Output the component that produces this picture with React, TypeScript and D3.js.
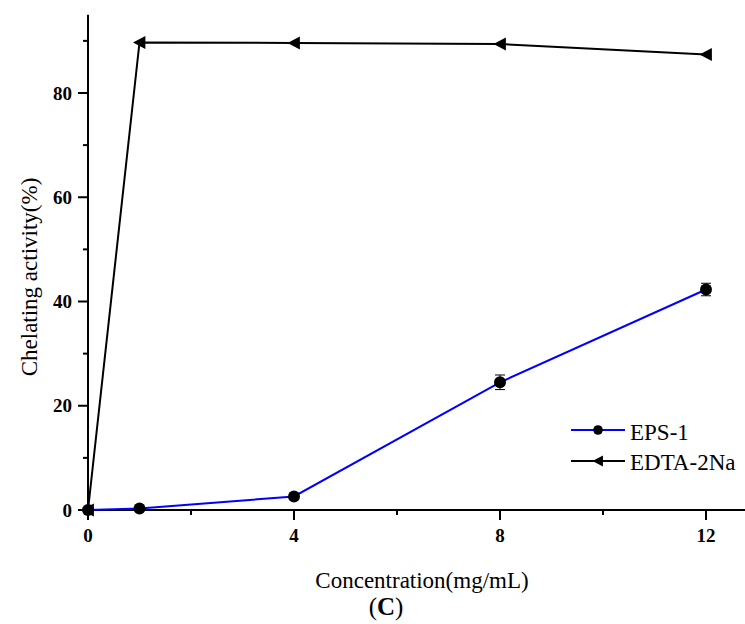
import React from "react";
import * as d3 from "d3";

const concentrations = [0, 1, 4, 8, 12];
const eps1 = [0, 0.3, 2.6, 24.5, 42.3];
const eps1Err = [0.2, 0.3, 0.5, 1.4, 1.2];
const edta = [0, 89.7, 89.6, 89.4, 87.4];
const xMajorTicks = [0, 4, 8, 12];
const xMinorTicks = [2, 6, 10];
const yMajorTicks = [0, 20, 40, 60, 80];
const yMinorTicks = [10, 30, 50, 70, 90];

const W = 745, H = 624;
const serif = "Liberation Serif, Times New Roman, serif";

export default function App() {
  const x = d3.scaleLinear().domain([0, 12]).range([88, 706]);
  const y = d3.scaleLinear().domain([0, 80]).range([510, 93]);
  const line = d3.line<[number, number]>().x(d => x(d[0])).y(d => y(d[1]));
  const epsPts: [number, number][] = concentrations.map((c, i) => [c, eps1[i]]);
  const edtaPts: [number, number][] = concentrations.map((c, i) => [c, edta[i]]);
  const tri = (cx: number, cy: number, s = 6.5) =>
    `M${cx - s},${cy} L${cx + s * 0.9},${cy - s} L${cx + s * 0.9},${cy + s} Z`;

  return (
    <svg width={W} height={H} style={{ position: "absolute", left: 0, top: 0, background: "#fff" }}>
      <rect width={W} height={H} fill="#fff" />
      {/* axes */}
      <line x1={88} x2={88} y1={y(95)} y2={511} stroke="#000" strokeWidth={2} />
      <line x1={87} x2={745} y1={510} y2={510} stroke="#000" strokeWidth={2} />
      {yMajorTicks.map(t => (
        <g key={"ym" + t}>
          <line x1={78} x2={88} y1={y(t)} y2={y(t)} stroke="#000" strokeWidth={2} />
          <text x={72} y={y(t)} dy="0.35em" textAnchor="end" fontFamily={serif} fontWeight="bold" fontSize={19}>{t}</text>
        </g>
      ))}
      {yMinorTicks.map(t => (
        <line key={"yn" + t} x1={83} x2={88} y1={y(t)} y2={y(t)} stroke="#000" strokeWidth={2} />
      ))}
      {xMajorTicks.map(t => (
        <g key={"xm" + t}>
          <line x1={x(t)} x2={x(t)} y1={510} y2={520} stroke="#000" strokeWidth={2} />
          <text x={x(t)} y={542} textAnchor="middle" fontFamily={serif} fontWeight="bold" fontSize={19}>{t}</text>
        </g>
      ))}
      {xMinorTicks.map(t => (
        <line key={"xn" + t} x1={x(t)} x2={x(t)} y1={510} y2={515} stroke="#000" strokeWidth={2} />
      ))}
      {/* axis titles */}
      <text transform={`translate(37,277) rotate(-90)`} textAnchor="middle" fontFamily={serif} fontSize={23}>Chelating activity(%)</text>
      <text x={422} y={588} textAnchor="middle" fontFamily={serif} fontSize={23}>Concentration(mg/mL)</text>
      <text x={386} y={615} textAnchor="middle" fontFamily={serif} fontSize={25}>(<tspan fontWeight="bold">C</tspan>)</text>
      {/* EDTA */}
      <path d={line(edtaPts) || ""} fill="none" stroke="#000" strokeWidth={2} />
      {edtaPts.map((p, i) => (
        <path key={"e" + i} d={tri(x(p[0]), y(p[1]))} fill="#000" />
      ))}
      {/* EPS-1 */}
      <path d={line(epsPts) || ""} fill="none" stroke="#0000ff" strokeWidth={2} />
      {epsPts.map((p, i) => (
        <g key={"p" + i}>
          <line x1={x(p[0])} x2={x(p[0])} y1={y(p[1] - eps1Err[i])} y2={y(p[1] + eps1Err[i])} stroke="#000" strokeWidth={1} />
          <line x1={x(p[0]) - 5} x2={x(p[0]) + 5} y1={y(p[1] - eps1Err[i])} y2={y(p[1] - eps1Err[i])} stroke="#000" strokeWidth={1} />
          <line x1={x(p[0]) - 5} x2={x(p[0]) + 5} y1={y(p[1] + eps1Err[i])} y2={y(p[1] + eps1Err[i])} stroke="#000" strokeWidth={1} />
          <circle cx={x(p[0])} cy={y(p[1])} r={6} fill="#000" />
        </g>
      ))}
      {/* legend */}
      <line x1={571} x2={625} y1={430} y2={430} stroke="#0000ff" strokeWidth={2} />
      <circle cx={598} cy={430} r={4.8} fill="#000" />
      <text x={630} y={440} fontFamily={serif} fontSize={23}>EPS-1</text>
      <line x1={571} x2={625} y1={461} y2={461} stroke="#000" strokeWidth={2} />
      <path d={tri(598, 461, 5.5)} fill="#000" />
      <text x={630} y={470} fontFamily={serif} fontSize={23}>EDTA-2Na</text>
    </svg>
  );
}
